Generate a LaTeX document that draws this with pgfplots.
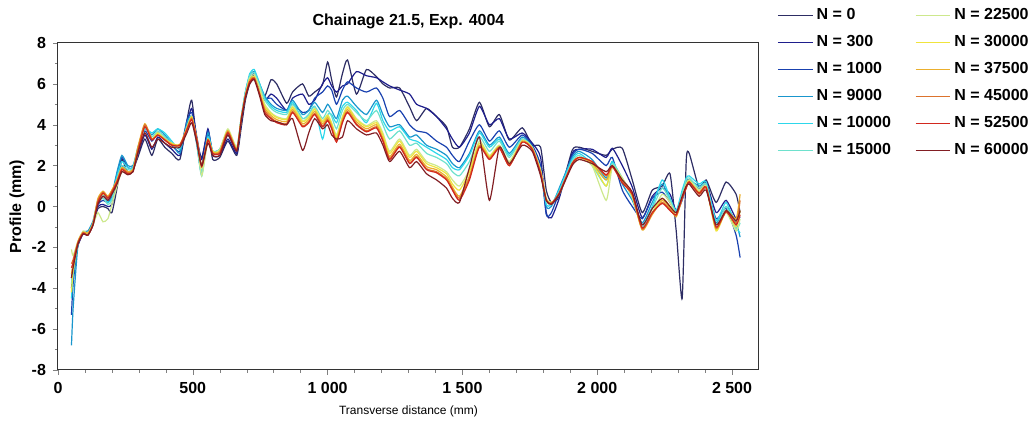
\documentclass[border=0pt]{standalone}
\usepackage{fontspec}
\setmainfont{Liberation Sans}
\usepackage{pgfplots}
\pgfplotsset{compat=1.18}
\usepackage{pgfplotstable}
\definecolor{ca}{RGB}{45,45,100}
\definecolor{cb}{RGB}{30,30,140}
\definecolor{cc}{RGB}{25,65,175}
\definecolor{cd}{RGB}{25,150,205}
\definecolor{ce}{RGB}{45,215,235}
\definecolor{cf}{RGB}{110,225,205}
\definecolor{cg}{RGB}{205,232,140}
\definecolor{ch}{RGB}{240,228,60}
\definecolor{ci}{RGB}{235,175,45}
\definecolor{cj}{RGB}{220,115,45}
\definecolor{ck}{RGB}{210,40,30}
\definecolor{cl}{RGB}{130,30,35}
\pgfplotstableread{
x a0 a1 a2 a3 a4 a5 a6 a7 a8 a9 a10 a11
50 -4.0 -3.5 -5.3 -6.8 -4.5 -3.8 -2.1 -4.2 -3.3 -2.8 -3.0 -3.5
56 -3.2 -2.9 -3.8 -5.0 -3.4 -3.0 -2.4 -3.2 -2.8 -2.6 -2.75 -3.0
74 -1.9 -1.9 -1.8 -1.9 -1.8 -1.8 -1.7 -1.8 -1.7 -1.75 -1.8 -1.85
93 -1.3 -1.35 -1.3 -1.25 -1.3 -1.3 -1.2 -1.3 -1.25 -1.3 -1.3 -1.35
111 -1.3 -1.4 -1.35 -1.2 -1.3 -1.35 -1.3 -1.35 -1.3 -1.4 -1.4 -1.4
130 -0.8 -0.9 -0.85 -0.7 -0.8 -0.85 -0.9 -0.85 -0.8 -0.85 -0.9 -0.9
148 -0.1 0.0 0.1 0.3 0.2 0.2 -0.3 0.3 0.4 0.3 0.2 0.1
167 0.0 0.1 0.3 0.5 0.6 0.4 -0.75 0.6 0.75 0.7 0.65 0.5
185 -0.1 0.0 0.2 0.3 0.2 0.1 -0.6 0.5 0.5 0.45 0.4 0.3
200 -0.3 0.1 0.5 0.6 0.4 0.3 0.1 0.8 0.8 0.75 0.7 0.6
219 0.9 1.2 1.6 1.7 1.5 1.3 1.0 1.3 1.3 1.25 1.2 1.1
237 2.3 2.0 2.4 2.5 2.2 2.0 1.7 1.9 1.9 1.85 1.8 1.7
259 1.6 1.7 1.9 2.0 1.9 1.8 1.6 1.7 1.7 1.65 1.6 1.55
278 1.8 1.8 1.9 2.0 1.9 1.85 1.75 1.8 1.8 1.75 1.7 1.7
296 2.4 2.5 2.7 2.8 2.9 2.7 2.6 2.8 2.9 2.8 2.65 2.6
322 3.3 3.5 3.7 3.8 3.8 3.9 3.9 4.0 4.05 4.0 3.9 3.6
348 2.5 2.8 3.2 3.5 3.6 3.4 3.3 3.3 3.3 3.3 3.25 2.9
370 3.3 3.4 3.6 3.8 3.8 3.7 3.6 3.6 3.5 3.5 3.5 3.3
396 2.9 3.1 3.3 3.5 3.6 3.4 3.3 3.3 3.3 3.25 3.25 3.1
422 2.6 2.8 3.0 3.1 3.2 3.1 3.0 3.1 3.05 3.0 3.0 2.9
452 2.3 2.5 2.7 2.6 2.8 2.9 3.0 3.0 3.05 3.0 3.0 2.9
478 4.2 4.0 4.2 4.1 3.9 3.9 3.8 3.85 3.8 3.8 3.75 3.6
496 5.2 4.8 4.6 4.4 4.4 4.4 4.3 4.4 4.35 4.3 4.25 4.1
515 3.2 3.4 3.3 3.0 3.1 3.2 3.2 3.3 3.3 3.3 3.25 3.1
533 2.4 2.3 2.0 1.6 1.5 1.7 1.5 1.9 2.0 2.0 1.95 2.0
556 3.6 3.8 3.7 3.6 3.4 3.3 3.2 3.3 3.3 3.25 3.25 3.1
574 2.3 2.5 2.6 2.7 2.7 2.7 2.6 2.7 2.65 2.6 2.6 2.5
600 2.4 2.5 2.7 2.8 2.8 2.8 2.8 2.7 2.7 2.65 2.6 2.5
630 3.2 3.3 3.5 3.7 3.6 3.6 3.8 3.7 3.7 3.65 3.6 3.5
663 2.5 2.6 2.7 2.8 2.9 2.8 2.9 2.8 2.8 2.75 2.75 2.7
680 3.9 4.1 4.2 4.4 4.4 4.3 4.4 4.3 4.3 4.3 4.3 4.2
695 5.2 5.4 5.4 5.6 5.6 5.5 5.5 5.4 5.4 5.4 5.4 5.3
711 6.0 6.2 6.2 6.4 6.5 6.4 6.3 6.2 6.2 6.1 6.1 6.0
728 6.3 6.4 6.5 6.6 6.7 6.55 6.45 6.35 6.3 6.3 6.25 6.2
748 5.8 5.8 5.9 6.0 6.0 5.9 5.8 5.6 5.5 5.5 5.5 5.4
767 5.4 5.2 5.3 5.4 5.3 5.2 5.0 4.9 4.8 4.7 4.6 4.5
790 6.2 5.5 5.3 5.0 4.9 4.8 4.6 4.55 4.45 4.35 4.3 4.2
811 6.0 5.3 5.0 4.8 4.7 4.6 4.4 4.35 4.25 4.15 4.1 4.15
848 5.05 4.7 4.7 4.7 4.6 4.5 4.3 4.25 4.15 4.05 4.0 4.0
870 5.6 5.3 5.0 5.2 5.1 5.0 4.9 4.85 4.75 4.65 4.6 4.3
907 6.0 5.5 4.6 4.5 4.3 4.3 4.2 4.15 4.05 3.95 3.9 2.75
930 5.4 5.0 4.7 4.7 4.5 4.5 4.4 4.35 4.25 4.15 4.1 3.6
952 5.6 5.2 5.3 5.1 4.9 4.9 4.8 4.75 4.65 4.55 4.5 4.3
981 5.95 6.0 5.6 4.6 3.3 4.3 4.2 4.15 4.05 3.95 3.9 3.8
1000 7.07 6.3 5.9 5.0 4.5 4.7 4.5 4.45 4.35 4.25 4.2 4.0
1015 6.2 5.9 5.7 4.7 4.5 4.4 4.1 4.05 3.95 3.85 3.8 3.5
1033 5.36 5.6 5.0 4.3 4.1 3.8 3.5 3.4 3.3 3.2 3.15 3.3
1055 6.5 5.9 5.7 5.2 4.9 4.7 4.4 4.35 4.25 4.15 4.1 3.4
1074 7.17 6.0 6.1 5.4 5.1 5.0 4.9 4.85 4.75 4.65 4.6 4.2
1107 5.5 6.6 5.8 4.9 4.7 4.6 4.3 4.25 4.15 4.05 4.0 3.8
1144 6.7 6.4 5.6 4.5 4.1 4.2 3.95 3.9 3.8 3.7 3.65 3.5
1181 6.35 6.3 5.8 5.2 5.05 4.7 4.2 4.1 4.0 3.9 3.85 3.6
1205 6.0 6.1 5.3 4.5 4.2 4.0 3.6 3.5 3.35 3.25 3.2 3.0
1230 5.8 5.9 4.4 3.9 3.7 3.3 2.7 2.6 2.45 2.35 2.3 2.2
1267 5.8 5.7 4.7 4.0 3.9 3.7 3.3 3.2 3.05 2.95 2.9 2.7
1304 4.87 5.5 4.0 3.4 3.3 3.0 2.5 2.4 2.25 2.15 2.1 1.9
1330 4.2 5.0 3.7 3.5 3.2 3.1 2.8 2.7 2.55 2.45 2.4 2.2
1367 4.8 4.8 3.6 3.0 2.9 2.6 2.2 2.1 1.95 1.85 1.8 1.6
1404 4.4 4.4 3.2 2.8 2.6 2.4 2.0 1.9 1.8 1.7 1.65 1.3
1441 3.9 3.8 2.9 2.5 2.3 2.1 1.7 1.6 1.45 1.35 1.3 0.9
1463 2.9 3.3 2.5 2.1 1.9 1.7 1.3 1.1 0.95 0.85 0.8 0.4
1489 2.9 2.9 2.2 1.9 1.8 1.5 1.0 0.8 0.5 0.4 0.3 0.2
1526 3.8 3.6 3.2 2.6 2.5 2.2 1.8 1.7 1.5 1.4 1.3 1.9
1563 5.1 4.9 4.0 3.7 3.6 3.4 3.2 3.1 3.0 2.95 2.9 3.4
1600 3.9 4.0 3.2 3.0 2.9 2.7 2.5 2.45 2.4 2.35 2.3 0.3
1637 4.5 4.3 3.7 3.4 3.3 3.2 3.0 2.95 2.9 2.9 2.85 2.9
1674 3.25 3.3 2.9 2.6 2.5 2.4 2.2 2.1 2.05 2.0 2.0 2.1
1722 3.85 3.6 3.5 3.4 3.3 3.3 3.25 3.2 3.2 3.15 3.15 3.0
1759 3.0 3.1 3.0 2.9 2.9 2.85 2.9 2.85 2.85 2.8 2.8 2.7
1790 2.9 2.4 2.0 1.8 1.7 1.7 1.8 1.7 1.7 1.65 1.6 1.5
1811 0.8 -0.3 -0.4 0.0 0.1 0.3 0.4 0.35 0.35 0.3 0.3 0.3
1830 0.2 -0.55 -0.3 0.0 0.1 0.1 0.2 0.2 0.15 0.15 0.15 0.1
1859 0.5 0.4 0.7 0.9 0.8 0.7 0.6 0.6 0.65 0.65 0.65 0.6
1907 2.75 2.6 2.5 2.4 2.3 2.2 2.1 2.1 2.1 2.1 2.1 2.0
1933 2.9 2.8 2.8 2.7 2.6 2.5 2.4 2.4 2.4 2.4 2.4 2.3
1981 2.7 2.8 2.6 2.3 2.1 2.0 2.0 2.1 2.15 2.2 2.2 2.1
2033 2.5 2.4 2.0 1.4 1.3 1.0 0.3 1.0 1.3 1.5 1.55 1.7
2056 2.8 2.85 2.4 2.2 2.2 2.1 1.9 2.0 2.0 1.95 1.95 2.0
2093 2.85 2.0 0.8 1.1 1.3 1.4 1.4 1.3 1.2 1.2 1.15 1.3
2130 1.3 0.95 0.0 0.3 0.5 0.4 0.5 0.5 0.55 0.6 0.6 0.7
2167 -0.3 -0.55 -0.6 -0.8 -0.9 -1.0 -1.1 -1.1 -1.15 -1.1 -1.05 -0.9
2204 0.8 0.5 0.4 0.2 0.0 -0.1 -0.3 -0.3 -0.4 -0.35 -0.3 -0.1
2241 1.0 0.9 0.7 1.1 1.3 0.9 0.6 0.4 0.3 0.2 0.15 0.4
2270 1.6 0.6 0.2 0.3 0.4 0.3 0.2 0.0 -0.1 -0.15 -0.2 0.0
2293 -1.2 -0.2 -0.3 -0.3 -0.2 -0.3 -0.4 -0.45 -0.5 -0.45 -0.4 -0.3
2315 -4.5 0.5 0.3 0.6 0.8 0.6 0.5 0.4 0.4 0.4 0.4 0.5
2330 2.2 1.2 1.0 1.2 1.4 1.3 1.1 1.0 0.95 0.9 0.9 1.0
2341 2.6 1.3 1.1 1.3 1.5 1.4 1.3 1.25 1.2 1.2 1.2 1.1
2378 0.9 0.7 0.9 1.0 1.1 0.9 0.8 0.7 0.65 0.6 0.65 0.5
2404 1.3 1.2 1.0 1.1 1.2 1.1 1.0 0.95 0.95 0.9 0.95 0.8
2441 0.2 -0.3 -0.6 -0.8 -0.7 -0.9 -1.1 -1.2 -1.1 -1.05 -1.0 -0.9
2478 1.2 0.3 -0.1 0.0 0.2 0.0 -0.3 -0.2 -0.2 -0.25 -0.25 -0.2
2515 0.6 -0.6 -1.4 -0.8 -1.0 -1.1 -1.2 -1.0 -0.6 -0.8 -0.9 -0.7
2530 -0.3 -0.5 -2.5 -1.5 -1.3 -0.8 -0.6 -0.2 0.6 0.3 -0.4 -0.2
}\data
\begin{document}
\begin{tikzpicture}
\begin{axis}[
  scale only axis, width=350.5pt, height=163.5pt,
  xmin=0, xmax=2600, ymin=-8, ymax=8,
  xtick={0,500,1000,1500,2000,2500}, ytick={-8,-6,-4,-2,0,2,4,6,8},
  minor x tick num=4, minor y tick num=1,
  tick align=outside, tick pos=left,
  major tick length=2.5pt, minor tick length=1.5pt,
  axis line style={black!80, line width=0.5pt},
  /pgf/number format/assume math mode=true,
  /pgf/number format/1000 sep={\ },
  ticklabel style={font=\bfseries\fontsize{8}{9}\selectfont},
  title={Chainage 21.5, Exp. 4004},
  every axis title/.style={font=\bfseries\fontsize{8}{9}\selectfont, at={(axis description cs:0.5,1.052)}, anchor=base},
  xlabel={Transverse distance (mm)},
  xlabel style={font=\fontsize{6}{7}\selectfont, at={(axis description cs:0.5,-0.128)}, anchor=center},
  ylabel={Profile (mm)},
  ylabel style={font=\bfseries\fontsize{8}{9}\selectfont, at={(axis description cs:-0.0585,0.5)}, anchor=center},
  legend columns=6,
  transpose legend,
  legend cell align=left,
  legend style={at={(axis description cs:1,1)}, anchor=north west, xshift=6pt, yshift=21.5pt,
    draw=none, fill=none, font=\bfseries\fontsize{8}{9}\selectfont, row sep=2.4pt,
    /tikz/every even column/.append style={column sep=10pt}},
  every axis plot/.append style={line width=0.6pt},
]
\addplot[ca, smooth, tension=0.35] table[x=x,y=a0]{\data};
\addlegendentry{N = 0}
\addplot[cb, smooth, tension=0.35] table[x=x,y=a1]{\data};
\addlegendentry{N = 300}
\addplot[cc, smooth, tension=0.35] table[x=x,y=a2]{\data};
\addlegendentry{N = 1000}
\addplot[cd, smooth, tension=0.35] table[x=x,y=a3]{\data};
\addlegendentry{N = 9000}
\addplot[ce, smooth, tension=0.35] table[x=x,y=a4]{\data};
\addlegendentry{N = 10000}
\addplot[cf, smooth, tension=0.35] table[x=x,y=a5]{\data};
\addlegendentry{N = 15000}
\addplot[cg, smooth, tension=0.35] table[x=x,y=a6]{\data};
\addlegendentry{N = 22500}
\addplot[ch, smooth, tension=0.35] table[x=x,y=a7]{\data};
\addlegendentry{N = 30000}
\addplot[ci, smooth, tension=0.35] table[x=x,y=a8]{\data};
\addlegendentry{N = 37500}
\addplot[cj, smooth, tension=0.35] table[x=x,y=a9]{\data};
\addlegendentry{N = 45000}
\addplot[ck, smooth, tension=0.35] table[x=x,y=a10]{\data};
\addlegendentry{N = 52500}
\addplot[cl, smooth, tension=0.35] table[x=x,y=a11]{\data};
\addlegendentry{N = 60000}
\end{axis}
\pgfresetboundingbox
\path (-29pt,-26.5pt) rectangle (488.5pt,185pt);
\end{tikzpicture}
\end{document}
